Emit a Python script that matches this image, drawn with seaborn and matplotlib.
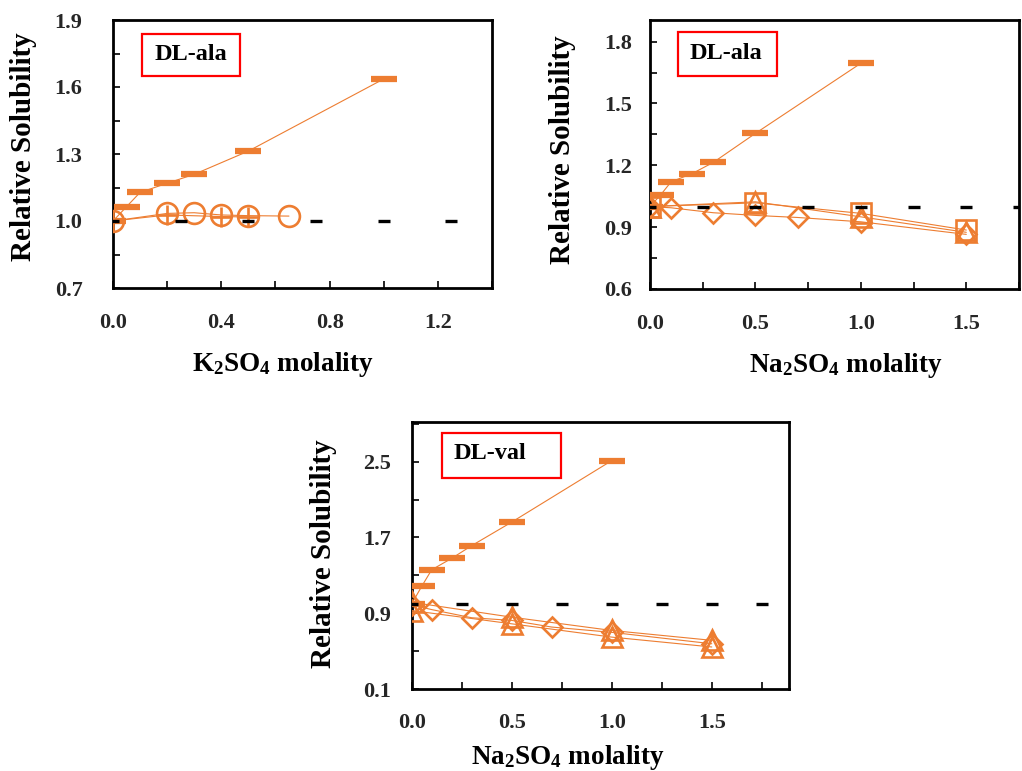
import matplotlib
matplotlib.use("Agg")
import matplotlib.pyplot as plt
import seaborn as sns
import numpy as np
from matplotlib.patches import Rectangle
from matplotlib.ticker import FixedLocator, FormatStrFormatter

# ---------------- data ----------------
# Panel A: K2SO4, DL-ala
k_bar_x = [0.0, 0.05, 0.1, 0.2, 0.3, 0.5, 1.0]
k_bar_y = [1.0, 1.064, 1.128, 1.169, 1.209, 1.313, 1.636]
k_circ_x = [0.0, 0.2, 0.3, 0.4, 0.5, 0.65]
k_circ_y = [1.0, 1.034, 1.037, 1.027, 1.024, 1.022]
k_plus_x = [0.0, 0.2, 0.4, 0.5]
k_plus_y = [1.0, 1.027, 1.020, 1.018]
k_ref_x = [0.0, 0.25, 0.5, 0.75, 1.0, 1.25]
k_ref_y = [1.0, 1.0, 1.0, 1.0, 1.0, 1.0]

# Panel B: Na2SO4, DL-ala
na_bar_x = [0.0, 0.05, 0.1, 0.2, 0.3, 0.5, 1.0]
na_bar_y = [1.0, 1.056, 1.12, 1.16, 1.214, 1.355, 1.695]
na_sq_x = [0.0, 0.5, 1.0, 1.5]
na_sq_y = [1.0, 1.018, 0.967, 0.886]
na_tri_x = [0.0, 0.5, 1.0, 1.5]
na_tri_y = [1.0, 1.023, 0.950, 0.875]
na_dia_x = [0.0, 0.1, 0.3, 0.5, 0.7, 1.0, 1.5]
na_dia_y = [1.0, 0.994, 0.970, 0.957, 0.947, 0.926, 0.865]
na_ref_x = [0.0, 0.25, 0.5, 0.75, 1.0, 1.25, 1.5, 1.75]
na_ref_y = [1.0] * 8

# Panel C: Na2SO4, DL-val
v_bar_x = [0.0, 0.05, 0.1, 0.2, 0.3, 0.5, 1.0]
v_bar_y = [1.0, 1.185, 1.36, 1.48, 1.614, 1.862, 2.51]
v_tri1_x = [0.0, 0.5, 1.0, 1.5]
v_tri1_y = [1.017, 0.86, 0.72, 0.616]
v_tri2_x = [0.0, 0.5, 1.0, 1.5]
v_tri2_y = [0.93, 0.79, 0.65, 0.546]
v_dia_x = [0.0, 0.1, 0.3, 0.5, 0.7, 1.0, 1.5]
v_dia_y = [0.99, 0.94, 0.854, 0.826, 0.756, 0.70, 0.58]
v_ref_x = [0.0, 0.25, 0.5, 0.75, 1.0, 1.25, 1.5, 1.75]
v_ref_y = [1.0] * 8

# ---------------- style ----------------
sns.set_theme(style="white")
plt.rcParams["font.family"] = ["Liberation Serif", "DejaVu Serif"]
plt.rcParams["font.weight"] = "bold"
plt.rcParams["mathtext.fontset"] = "custom"
plt.rcParams["mathtext.rm"] = "Liberation Serif:bold"
plt.rcParams["mathtext.it"] = "Liberation Serif:bold"
plt.rcParams["mathtext.bf"] = "Liberation Serif:bold"
plt.rcParams["mathtext.default"] = "rm"

ORANGE = "#ED7D31"
LW = 0.8

fig = plt.figure(figsize=(10.22, 7.71), dpi=100)


def series(ax, x, y, marker, ms, mew, z=3):
    sns.lineplot(x=x, y=y, ax=ax, sort=False, estimator=None,
                 color=ORANGE, linewidth=LW,
                 marker=marker, markersize=ms, markeredgewidth=mew,
                 markeredgecolor=ORANGE, markerfacecolor="none", zorder=z)


def bars(ax, x, y):
    sns.lineplot(x=x, y=y, ax=ax, sort=False, estimator=None,
                 color=ORANGE, linewidth=LW, marker="_", markersize=19,
                 markeredgewidth=4.5, markeredgecolor=ORANGE, zorder=3)


def ref(ax, x, y):
    sns.lineplot(x=x, y=y, ax=ax, sort=False, estimator=None,
                 color="black", linewidth=0, marker="_", markersize=8,
                 markeredgewidth=2.4, markeredgecolor="black", zorder=5)


def style_axes(ax, xlim, ylim, xmaj, xmin, ymaj, ymin, xpad, ypad):
    ax.set_xlim(*xlim)
    ax.set_ylim(*ylim)
    ax.xaxis.set_major_locator(FixedLocator(np.arange(xlim[0], xlim[1] + 1e-6, xmaj)))
    ax.xaxis.set_minor_locator(FixedLocator(np.arange(xlim[0], xlim[1] + 1e-6, xmin)))
    ax.yaxis.set_major_locator(FixedLocator(np.arange(ylim[0], ylim[1] + 1e-6, ymaj)))
    ax.yaxis.set_minor_locator(FixedLocator(np.arange(ylim[0], ylim[1] + 1e-6, ymin)))
    ax.xaxis.set_major_formatter(FormatStrFormatter("%.1f"))
    ax.yaxis.set_major_formatter(FormatStrFormatter("%.1f"))
    for s in ax.spines.values():
        s.set_visible(True)
        s.set_color("black")
        s.set_linewidth(2.0)
    ax.tick_params(axis="both", which="both", direction="in", length=5,
                   width=1.2, color="black", bottom=True, left=True,
                   top=False, right=False, labelsize=16)
    ax.tick_params(axis="x", which="major", pad=xpad)
    ax.tick_params(axis="y", which="major", pad=ypad)
    for lab in ax.get_xticklabels() + ax.get_yticklabels():
        lab.set_fontweight("bold")
    ax.grid(False)
    ax.set_facecolor("white")


def label_box(ax, text, x0, y0, x1, y1, tx, ty):
    ax.add_patch(Rectangle((x0, y0), x1 - x0, y1 - y0, transform=ax.transAxes,
                           fill=False, edgecolor="red", linewidth=1.6,
                           zorder=6, clip_on=False))
    ax.text(tx, ty, text, transform=ax.transAxes, ha="center", va="center",
            fontsize=17.5, fontweight="bold", color="black", zorder=7)


def labels(ax, xl, xlx, xly, ylx, yly):
    ax.set_xlabel(xl, fontsize=19.5, fontweight="bold", color="black")
    ax.set_ylabel("Relative Solubility", fontsize=21, fontweight="bold",
                  color="black")
    ax.xaxis.set_label_coords(xlx, xly)
    ax.yaxis.set_label_coords(ylx, yly)
    ax.xaxis.label.set_va("center")
    ax.yaxis.label.set_va("center")


# ---------------- Panel A ----------------
axA = fig.add_axes([113 / 1022, 1 - 288 / 771, 379 / 1022, 268 / 771])
bars(axA, k_bar_x, k_bar_y)
series(axA, k_circ_x, k_circ_y, "o", 15, 1.9)
series(axA, k_plus_x, k_plus_y, "+", 15, 1.9)
ref(axA, k_ref_x, k_ref_y)
style_axes(axA, (0, 1.4), (0.7, 1.9), 0.4, 0.2, 0.3, 0.15, 18, 22)
labels(axA, "K$_2$SO$_4$ molality", 0.447, -0.287, -0.237, 0.528)
label_box(axA, "DL-ala", 0.077, 0.792, 0.336, 0.948, 0.206, 0.87)

# ---------------- Panel B ----------------
axB = fig.add_axes([650 / 1022, 1 - 289 / 771, 369 / 1022, 269 / 771])
bars(axB, na_bar_x, na_bar_y)
series(axB, na_sq_x, na_sq_y, "s", 15, 1.9)
series(axB, na_tri_x, na_tri_y, "^", 14, 1.9)
series(axB, na_dia_x, na_dia_y, "D", 10.5, 1.9)
ref(axB, na_ref_x, na_ref_y)
style_axes(axB, (0, 1.75), (0.6, 1.905), 0.5, 0.25, 0.3, 0.15, 18, 13)
labels(axB, "Na$_2$SO$_4$ molality", 0.531, -0.283, -0.236, 0.517)
label_box(axB, "DL-ala", 0.076, 0.792, 0.344, 0.955, 0.206, 0.874)

# ---------------- Panel C ----------------
axC = fig.add_axes([411.7 / 1022, 1 - 689.3 / 771, 377.3 / 1022, 267.6 / 771])
bars(axC, v_bar_x, v_bar_y)
series(axC, v_tri1_x, v_tri1_y, "^", 14, 1.9)
series(axC, v_tri2_x, v_tri2_y, "^", 14, 1.9)
series(axC, v_dia_x, v_dia_y, "D", 10.5, 1.9)
ref(axC, v_ref_x, v_ref_y)
style_axes(axC, (0, 1.886), (0.1, 2.92), 0.5, 0.25, 0.8, 0.4, 17, 15)
labels(axC, "Na$_2$SO$_4$ molality", 0.413, -0.253, -0.235, 0.506)
label_box(axC, "DL-val", 0.0795, 0.79, 0.3957, 0.958, 0.2075, 0.883)

fig.savefig("out.png", dpi=100, facecolor="white")
